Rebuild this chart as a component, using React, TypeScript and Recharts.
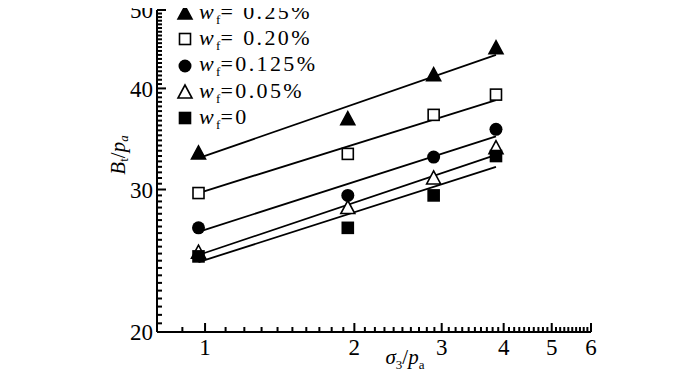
import React from 'react';
import { ScatterChart, Scatter, XAxis, YAxis, Label } from 'recharts';

const FONT = "'Liberation Serif', 'Times New Roman', Times, serif";

// confining pressure ratio sigma3/pa
const xVals = [0.97, 1.94, 2.89, 3.86];
// Bt/pa measured for each fibre content
const w025 = [33.3, 36.7, 41.6, 44.9];
const w020 = [29.7, 33.2, 37.1, 39.3];
const w0125 = [26.9, 29.5, 32.9, 35.6];
const w005 = [25.1, 28.5, 31.0, 33.8];
const w0 = [24.8, 26.9, 29.5, 33.0];

// fitted lines (end points)
const fitX = [0.97, 3.86];
const fit025 = [32.8, 44.0];
const fit020 = [29.7, 38.7];
const fit0125 = [26.6, 34.9];
const fit005 = [24.9, 33.1];
const fit0 = [24.4, 32.0];

const X_DOMAIN = [0.8, 6];
const Y_DOMAIN = [20, 50];
const xMajor = [1, 2, 3, 4, 5, 6];
const yMajor = [20, 30, 40, 50];

// tick marks on the log axes (0.1 steps on x, 0.5 steps on y)
const xTickMarks: number[] = [];
for (let i = 9; i <= 60; i++) xTickMarks.push(i / 10);
const yTickMarks: number[] = [];
for (let i = 41; i <= 100; i++) yTickMarks.push(i / 2);

const toPoints = (ys: number[]) => ys.map((y, i) => ({ x: xVals[i], y }));
const toFit = (ys: number[]) => ys.map((y, i) => ({ x: fitX[i], y }));

type Kind = 'triFill' | 'sqOpen' | 'circFill' | 'triOpen' | 'sqFill';

const Marker = ({ kind, cx, cy }: { kind: Kind; cx: number; cy: number }) => {
  const open = kind === 'sqOpen' || kind === 'triOpen';
  const fill = open ? '#fff' : '#000';
  const stroke = '#000';
  if (kind === 'triFill' || kind === 'triOpen') {
    return (
      <polygon
        points={`${cx},${cy - 7} ${cx - 7},${cy + 6} ${cx + 7},${cy + 6}`}
        fill={fill}
        stroke={stroke}
        strokeWidth={1.6}
      />
    );
  }
  if (kind === 'circFill') {
    return <circle cx={cx} cy={cy} r={6.5} fill={fill} />;
  }
  return <rect x={cx - 5.5} y={cy - 5.5} width={11} height={11} fill={fill} stroke={stroke} strokeWidth={1.6} />;
};

const series: { kind: Kind; label: string; sep: string; data: number[]; fit: number[] }[] = [
  { kind: 'triFill', label: '0.25%', sep: '= ', data: w025, fit: fit025 },
  { kind: 'sqOpen', label: '0.20%', sep: '= ', data: w020, fit: fit020 },
  { kind: 'circFill', label: '0.125%', sep: '=', data: w0125, fit: fit0125 },
  { kind: 'triOpen', label: '0.05%', sep: '=', data: w005, fit: fit005 },
  { kind: 'sqFill', label: '0', sep: '=', data: w0, fit: fit0 },
];

const LegendBox = () => (
  <div
    style={{
      position: 'absolute',
      left: 176,
      top: 0,
      fontFamily: FONT,
      fontSize: 22,
      color: '#000',
      letterSpacing: 2.4,
    }}
  >
    {series.map((s) => (
      <div key={s.kind} style={{ display: 'flex', alignItems: 'center', height: 26.3 }}>
        <svg width={18} height={18} style={{ marginRight: 5 }}>
          <Marker kind={s.kind} cx={9} cy={9} />
        </svg>
        <span style={{ whiteSpace: 'pre', lineHeight: '26px' }}>
          <i>w</i>
          <span style={{ fontSize: 13, position: 'relative', top: 5, letterSpacing: 0 }}>f</span>
          {s.sep}
          {s.label}
        </span>
      </div>
    ))}
  </div>
);

const YTitle = () => {
  const cx = 118;
  const cy = 155;
  return (
    <text
      x={cx}
      y={cy}
      transform={`rotate(-90 ${cx} ${cy})`}
      textAnchor="middle"
      dominantBaseline="central"
      fontFamily={FONT}
      fontSize={21}
      fill="#000"
    >
      <tspan fontStyle="italic">B</tspan>
      <tspan fontSize={13} dy={5}>t</tspan>
      <tspan dy={-5}>/</tspan>
      <tspan fontStyle="italic">p</tspan>
      <tspan fontSize={13} fontStyle="italic" dy={5}>a</tspan>
    </text>
  );
};

const XTitle = () => (
  <text x={405} y={364} textAnchor="middle" fontFamily={FONT} fontSize={21} fill="#000">
    <tspan fontStyle="italic">σ</tspan>
    <tspan fontSize={13} dy={5}>3</tspan>
    <tspan dy={-5}>/</tspan>
    <tspan fontStyle="italic">p</tspan>
    <tspan fontSize={13} dy={5}>a</tspan>
  </text>
);

const tickStyle = { fontFamily: FONT, fontSize: 23, fill: '#000' };

// inward tick marks drawn at the axis edges through the chart scales
const XMark = (p: any) => {
  const len = xMajor.includes(p.payload.x) ? 9 : 5;
  return <rect x={p.cx - 1} y={p.cy - len} width={2} height={len} fill="#000" />;
};
const YMark = (p: any) => {
  const len = yMajor.includes(p.payload.y) ? 9 : 5;
  return <rect x={p.cx} y={p.cy - 1} width={len} height={2} fill="#000" />;
};

export default function App() {
  return (
    <div style={{ margin: -8, width: 700, height: 377, background: '#fff', position: 'relative' }}>
      <ScatterChart width={700} height={377} margin={{ top: 10, right: 109, bottom: 0, left: 107 }}>
        <XAxis
          type="number"
          dataKey="x"
          scale="log"
          domain={X_DOMAIN}
          ticks={xMajor}
          interval={0}
          tickSize={0}
          tickMargin={7}
          tick={tickStyle}
          tickLine={false}
          axisLine={{ stroke: '#000', strokeWidth: 2 }}
          height={45}
        >
          <Label content={<XTitle />} />
        </XAxis>
        <YAxis
          type="number"
          dataKey="y"
          scale="log"
          domain={Y_DOMAIN}
          ticks={yMajor}
          interval={0}
          tickSize={0}
          tickMargin={4}
          tick={tickStyle}
          tickLine={false}
          axisLine={{ stroke: '#000', strokeWidth: 2 }}
          width={50}
        >
          <Label content={<YTitle />} />
        </YAxis>
        <Scatter
          data={xTickMarks.map((x) => ({ x, y: Y_DOMAIN[0] }))}
          shape={XMark}
          legendType="none"
          isAnimationActive={false}
        />
        <Scatter
          data={yTickMarks.map((y) => ({ x: X_DOMAIN[0], y }))}
          shape={YMark}
          legendType="none"
          isAnimationActive={false}
        />
        {series.map((s) => (
          <Scatter
            key={`fit-${s.kind}`}
            data={toFit(s.fit)}
            line={{ stroke: '#000', strokeWidth: 1.8 }}
            shape={() => <g />}
            legendType="none"
            isAnimationActive={false}
          />
        ))}
        {series.map((s) => (
          <Scatter
            key={`pts-${s.kind}`}
            data={toPoints(s.data)}
            shape={(p: any) => <Marker kind={s.kind} cx={p.cx} cy={p.cy} />}
            isAnimationActive={false}
          />
        ))}
      </ScatterChart>
      <LegendBox />
    </div>
  );
}
